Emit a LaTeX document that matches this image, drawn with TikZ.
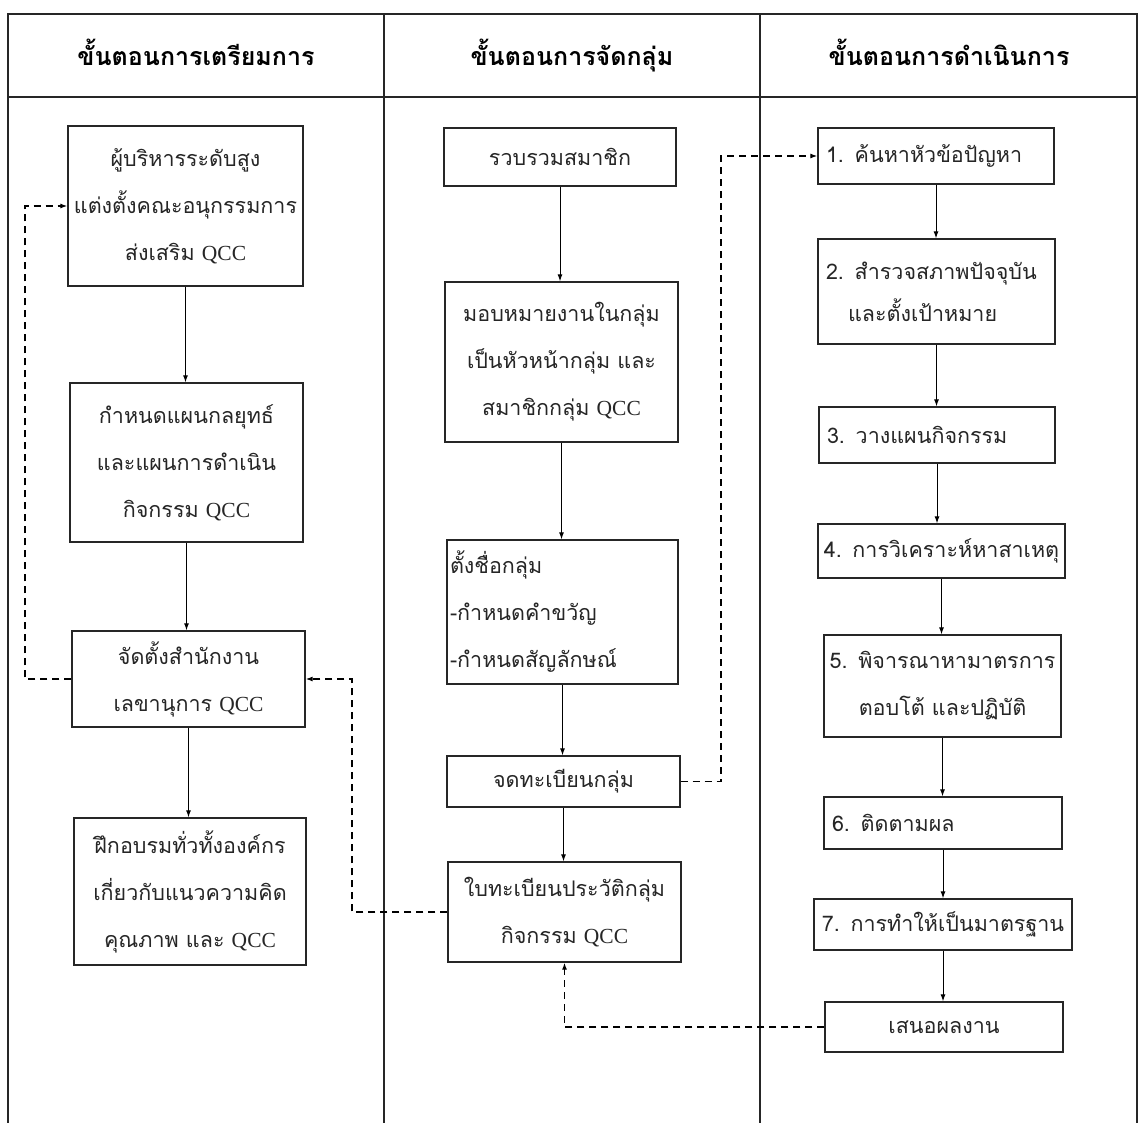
\documentclass[tikz,border=0pt]{standalone}
\usepackage{fontspec}
\newfontfamily\thaifont[Script=Thai]{Loma}
\newfontfamily\latinserif{Liberation Serif}
\usetikzlibrary{arrows.meta}
\newcommand\qcc{{\latinserif QCC}}

\begin{document}
\begin{tikzpicture}[x=1pt,y=-1pt,
  frame/.style={line width=1.3pt, black!85},
  box/.style={draw, line width=1.3pt, black!85, inner xsep=4pt, inner ysep=0pt,
    font=\thaifont\fontsize{21.5}{47}\selectfont, align=center},
  lbox/.style={box, align=left},
  head/.style={anchor=base, font=\thaifont\bfseries\fontsize{25}{30}\selectfont},
  flow/.style={line width=1pt, -{Latex[length=7pt,width=5pt]}},
  back/.style={line width=1.2pt, dash pattern=on 7pt off 5pt, -{Latex[length=7pt,width=5pt]}}]

\useasboundingbox (0,0) rectangle (1142,1123);
\fill[white] (0,0) rectangle (1142,1123);

% table frame and column rules
\draw[frame] (8,1123) -- (8,14) -- (1137,14) -- (1137,1123);
\draw[frame] (8,97) -- (1137,97);
\draw[frame] (384,14) -- (384,1123);
\draw[frame] (760,14) -- (760,1123);

% column headings
\node[head] (h1) at (196,66) {ขั้นตอนการเตรียมการ};
\node[head] (h2) at (572,66) {ขั้นตอนการจัดกลุ่ม};
\node[head] (h3) at (949,66) {ขั้นตอนการดำเนินการ};

% preparation column
\node[box, text width=227pt, minimum height=160pt] (a1) at (185.5,206) {ผู้บริหารระดับสูง\\แต่งตั้งคณะอนุกรรมการ\\ส่งเสริม \qcc};
\node[box, text width=225pt, minimum height=159pt] (a2) at (186.5,462.5) {กำหนดแผนกลยุทธ์\\และแผนการดำเนิน\\กิจกรรม \qcc};
\node[box, text width=225pt, minimum height=96pt] (a3) at (188.5,679) {จัดตั้งสำนักงาน\\เลขานุการ \qcc};
\node[box, text width=224pt, minimum height=147pt] (a4) at (190,891.5) {ฝึกอบรมทั่วทั้งองค์กร\\เกี่ยวกับแนวความคิด\\คุณภาพ และ \qcc};

% grouping column
\node[box, text width=224pt, minimum height=58pt] (b1) at (560,157) {รวบรวมสมาชิก};
\node[box, text width=225pt, minimum height=160pt] (b2) at (561.5,362) {มอบหมายงานในกลุ่ม\\เป็นหัวหน้ากลุ่ม และ\\สมาชิกกลุ่ม \qcc};
\node[lbox, inner xsep=3pt, text width=225pt, minimum height=144pt] (b3) at (562.5,612) {ตั้งชื่อกลุ่ม\\-กำหนดคำขวัญ\\-กำหนดสัญลักษณ์};
\node[box, text width=225pt, minimum height=51pt] (b4) at (563.5,781.5) {จดทะเบียนกลุ่ม};
\node[box, text width=225pt, minimum height=100pt] (b5) at (564.5,912) {ใบทะเบียนประวัติกลุ่ม\\กิจกรรม \qcc};

% operation column
\node[lbox, inner xsep=8pt, text width=220pt, minimum height=56pt] (c1) at (936,156) {1. ค้นหาหัวข้อปัญหา};
\node[lbox, inner xsep=8pt, text width=221pt, minimum height=105pt,
  font=\thaifont\fontsize{21.5}{42}\selectfont] (c2) at (936.5,291.5) {2. สำรวจสภาพปัจจุบัน\\\hspace*{22pt}และตั้งเป้าหมาย};
\node[lbox, inner xsep=8pt, text width=220pt, minimum height=56pt] (c3) at (937,435) {3. วางแผนกิจกรรม};
\node[box, text width=239pt, minimum height=54pt] (c4) at (941.5,551) {4. การวิเคราะห์หาสาเหตุ};
\node[box, text width=229pt, minimum height=102pt] (c5) at (942.5,686) {5. พิจารณาหามาตรการ\\ตอบโต้ และปฏิบัติ};
\node[lbox, inner xsep=8pt, text width=222pt, minimum height=52pt] (c6) at (943,823) {6. ติดตามผล};
\node[box, text width=250pt, minimum height=51pt] (c7) at (943,924.5) {7. การทำให้เป็นมาตรฐาน};
\node[box, text width=230pt, minimum height=50pt] (c8) at (944,1027) {เสนอผลงาน};

% main flow
\draw[flow] (a1.south) -- (a1.south |- a2.north);
\draw[flow] (a2.south) -- (a2.south |- a3.north);
\draw[flow] (a3.south) -- (a3.south |- a4.north);
\draw[flow] (b1.south) -- (b1.south |- b2.north);
\draw[flow] (b2.south) -- (b2.south |- b3.north);
\draw[flow] (b3.south) -- (b3.south |- b4.north);
\draw[flow] (b4.south) -- (b4.south |- b5.north);
\draw[flow] (c1.south) -- (c1.south |- c2.north);
\draw[flow] (c2.south) -- (c2.south |- c3.north);
\draw[flow] (c3.south) -- (c3.south |- c4.north);
\draw[flow] (c4.south) -- (c4.south |- c5.north);
\draw[flow] (c5.south) -- (c5.south |- c6.north);
\draw[flow] (c6.south) -- (c6.south |- c7.north);
\draw[flow] (c7.south) -- (c7.south |- c8.north);

% feedback links
\coordinate (l1) at (25,0);
\coordinate (l2) at (352,0);
\coordinate (l3) at (721,0);
\draw[back] (a3.west) -- (a3.west -| l1) -- (a1.west -| l1) -- (a1.west);
\draw[back] (b5.west) -- (b5.west -| l2) -- (a3.east -| l2) -- (a3.east);
\draw[back] (b4.east) -- (b4.east -| l3) -- (c1.west -| l3) -- (c1.west);
\draw[back] (c8.west) -| (b5.south);

\end{tikzpicture}
\end{document}
